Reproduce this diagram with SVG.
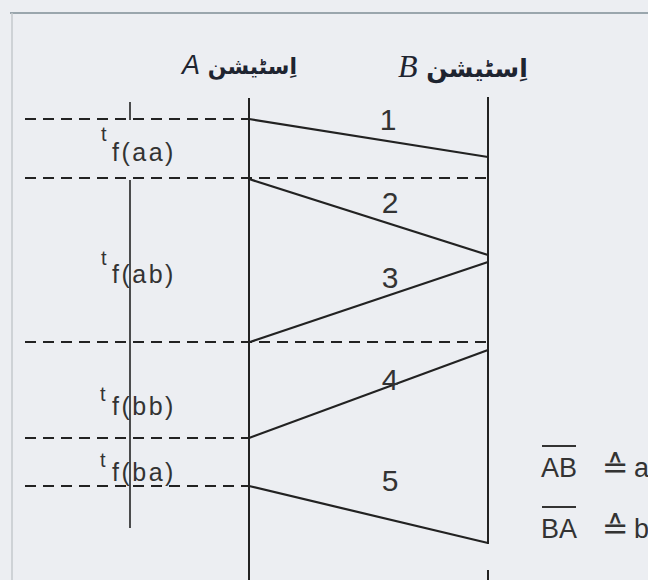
<svg xmlns="http://www.w3.org/2000/svg" width="648" height="580" viewBox="0 0 648 580">
<style>
.bg{fill:#eceef2}
.frame{stroke:#9aa6ad;stroke-width:2;fill:none}
.frameL{stroke:#c4c8cc;stroke-width:1.5;fill:none}
.st{stroke:#222;stroke-width:2;fill:none}
.msg{stroke:#222;stroke-width:2.2;fill:none}
.dash{stroke:#222;stroke-width:2;stroke-dasharray:11,7;fill:none}
.ax{stroke:#222;stroke-width:1.6;fill:none}
.num{font-family:"Liberation Sans",Arial,sans-serif;font-size:30px;fill:#333;text-anchor:middle}
.t{font-family:"Liberation Sans",Arial,sans-serif;font-size:20px;fill:#333}
.sub{font-family:"Liberation Sans",Arial,sans-serif;font-size:25px;fill:#333;letter-spacing:2.5px}
.leg{font-family:"Liberation Sans",Arial,sans-serif;font-size:27px;fill:#333}
.eq{font-family:"DejaVu Sans",sans-serif;font-size:32px;fill:#333}
.hdr{font-family:"DejaVu Sans","Noto Sans",sans-serif;font-weight:bold;fill:#1e2430}
</style>
<rect class="bg" x="0" y="0" width="648" height="580"/>
<line class="frame" x1="10" y1="13" x2="648" y2="13"/>
<line class="frameL" x1="12" y1="13" x2="12" y2="580"/>

<g id="stationA">
  <text class="hdr" x="182" y="74" font-size="22"><tspan font-family="Liberation Sans, sans-serif" font-style="italic" font-weight="normal" font-size="27">A</tspan> اِسٹیشن</text>
  <line class="st" x1="249" y1="98" x2="249" y2="580"/>
</g>
<g id="stationB">
  <text class="hdr" x="398" y="77" font-size="25"><tspan font-family="Liberation Serif, serif" font-style="italic" font-weight="normal" font-size="32">B</tspan> اِسٹیشن</text>
  <line class="st" x1="488" y1="97" x2="488" y2="544"/>
  <line class="st" x1="488" y1="570" x2="488" y2="580"/>
</g>

<g id="timeaxis">
  <line class="ax" x1="130" y1="102" x2="130" y2="120"/>
  <line class="ax" x1="130" y1="180" x2="130" y2="528"/>
</g>

<g id="dashlines">
  <line class="dash" x1="25" y1="119" x2="249" y2="119"/>
  <line class="dash" x1="25" y1="178" x2="488" y2="178"/>
  <line class="dash" x1="25" y1="342" x2="488" y2="342"/>
  <line class="dash" x1="25" y1="438" x2="249" y2="438"/>
  <line class="dash" x1="25" y1="486" x2="249" y2="486"/>
</g>

<g id="connectors">
  <line class="msg" x1="249" y1="119" x2="488" y2="157"/>
  <line class="msg" x1="249" y1="179" x2="488" y2="255"/>
  <line class="msg" x1="488" y1="262" x2="250" y2="342"/>
  <line class="msg" x1="488" y1="350" x2="249" y2="438"/>
  <line class="msg" x1="249" y1="486" x2="488" y2="543"/>
</g>

<g id="msglabels">
  <text class="num" x="388" y="130">1</text>
  <text class="num" x="390" y="213">2</text>
  <text class="num" x="390" y="288">3</text>
  <text class="num" x="390" y="390">4</text>
  <text class="num" x="390" y="491">5</text>
</g>

<g id="tlabels">
  <text class="t" x="101" y="141">t</text><text class="sub" x="112" y="161">f(aa)</text>
  <text class="t" x="101" y="265">t</text><text class="sub" x="112" y="283">f(ab)</text>
  <text class="t" x="100" y="401">t</text><text class="sub" x="112" y="415">f(bb)</text>
  <text class="t" x="100" y="467">t</text><text class="sub" x="112" y="481">f(ba)</text>
</g>

<g id="legend">
  <text class="leg" x="541" y="477">AB</text>
  <line x1="542" y1="446" x2="576" y2="446" stroke="#333" stroke-width="2"/>
  <text class="eq" x="602" y="478">≙</text>
  <text class="leg" x="634" y="477">a</text>
  <text class="leg" x="541" y="538">BA</text>
  <line x1="542" y1="507" x2="576" y2="507" stroke="#333" stroke-width="2"/>
  <text class="eq" x="602" y="539">≙</text>
  <text class="leg" x="634" y="538">b</text>
</g>
</svg>
